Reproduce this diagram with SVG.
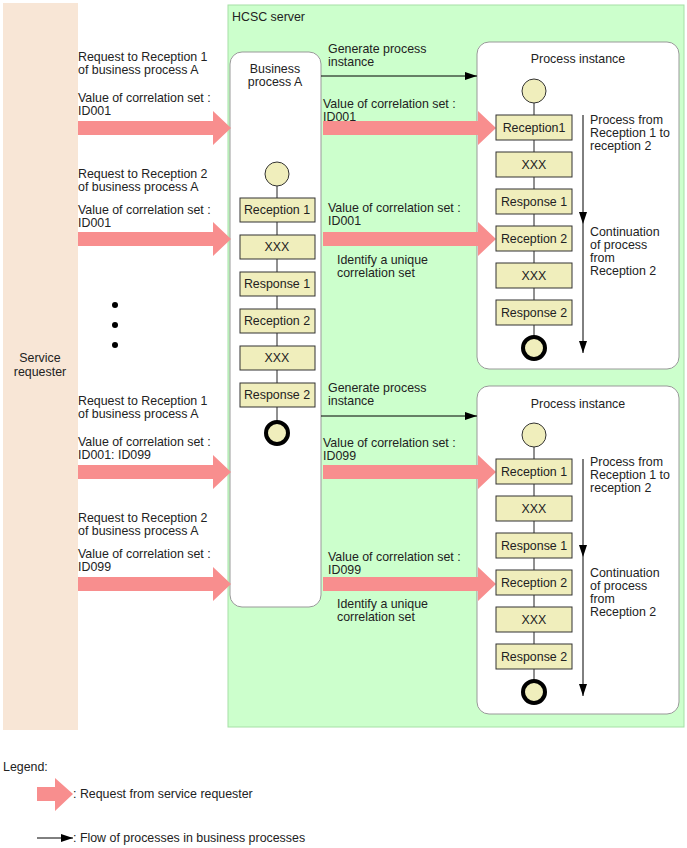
<svg xmlns="http://www.w3.org/2000/svg" width="687" height="848" viewBox="0 0 687 848">
<defs>
<style>
text{font-family:"Liberation Sans",Arial,sans-serif;font-size:12.4px;fill:#222}
.c{text-anchor:middle}
.box{fill:#F0EEBC;stroke:#333;stroke-width:1}
.st{fill:#F0EEBC;stroke:#333;stroke-width:1}
.en{fill:#F0EEBC;stroke:#000;stroke-width:4}
.ln{stroke:#222;stroke-width:1;fill:none}
.pk{fill:#F88E8E}
.fl{stroke:#000;stroke-width:1;fill:none;marker-end:url(#ah)}
</style>
<marker id="ah" viewBox="0 0 12 8" refX="12" refY="4" markerWidth="12" markerHeight="8" markerUnits="userSpaceOnUse" orient="auto">
<path d="M0,0 L12,4 L0,8 Z" fill="#000"/>
</marker>
</defs>
<rect width="687" height="848" fill="#fff"/>

<g id="service-requester">
<rect x="3" y="3" width="75" height="727" fill="#F8E6D6"/>
<text class="c" x="40" y="362">Service</text>
<text class="c" x="40" y="376">requester</text>
</g>

<g id="hcsc-server">
<rect x="228" y="5" width="456" height="722" fill="#CCFFCC" stroke="#A6E0A6" stroke-width="1"/>
<text x="232" y="21">HCSC server</text>
</g>

<g id="business-process-a">
<rect x="230" y="52" width="91" height="555" rx="12" fill="#fff" stroke="#999" stroke-width="1"/>
<text class="c" x="275" y="73">Business</text>
<text class="c" x="275" y="86">process A</text>
</g>

<g id="process-instance-1">
<rect x="477" y="42" width="202" height="327" rx="12" fill="#fff" stroke="#999" stroke-width="1"/>
<text class="c" x="578" y="63">Process instance</text>
</g>

<g id="process-instance-2">
<rect x="477" y="386" width="202" height="328" rx="12" fill="#fff" stroke="#999" stroke-width="1"/>
<text class="c" x="578" y="408">Process instance</text>
</g>

<g id="connectors">
<line class="ln" x1="277" y1="186" x2="277" y2="421"/>
<line class="ln" x1="534" y1="103" x2="534" y2="336"/>
<line class="ln" x1="534" y1="447" x2="534" y2="681"/>
<line class="fl" x1="321" y1="76" x2="477" y2="76"/>
<line class="fl" x1="321" y1="416" x2="477" y2="416"/>
<line class="fl" x1="583" y1="115" x2="583" y2="224"/>
<line class="fl" x1="583" y1="224" x2="583" y2="353"/>
<line class="fl" x1="583" y1="459" x2="583" y2="557"/>
<line class="fl" x1="583" y1="557" x2="583" y2="696"/>
<polygon class="pk" points="78,121 213,121 213,111 231,128 213,145 213,135 78,135"/>
<polygon class="pk" points="78,232 213,232 213,222 231,239 213,256 213,246 78,246"/>
<polygon class="pk" points="78,465 213,465 213,455 231,472 213,489 213,479 78,479"/>
<polygon class="pk" points="78,577 213,577 213,567 231,584 213,601 213,591 78,591"/>
<polygon class="pk" points="323,121 478,121 478,111 496,128 478,145 478,135 323,135"/>
<polygon class="pk" points="323,232 478,232 478,222 496,239 478,256 478,246 323,246"/>
<polygon class="pk" points="323,465 478,465 478,455 496,472 478,489 478,479 323,479"/>
<polygon class="pk" points="323,577 478,577 478,567 496,584 478,601 478,591 323,591"/>
</g>

<g id="bp-start"><circle class="st" cx="277" cy="174" r="12"/></g>
<g id="bp-reception1"><rect class="box" x="240" y="198" width="75" height="24"/><text class="c" x="277" y="214">Reception 1</text></g>
<g id="bp-xxx1"><rect class="box" x="240" y="235" width="75" height="24"/><text class="c" x="277" y="251">XXX</text></g>
<g id="bp-response1"><rect class="box" x="240" y="272" width="75" height="24"/><text class="c" x="277" y="288">Response 1</text></g>
<g id="bp-reception2"><rect class="box" x="240" y="309" width="75" height="24"/><text class="c" x="277" y="325">Reception 2</text></g>
<g id="bp-xxx2"><rect class="box" x="240" y="346" width="75" height="24"/><text class="c" x="277" y="362">XXX</text></g>
<g id="bp-response2"><rect class="box" x="240" y="383" width="75" height="24"/><text class="c" x="277" y="399">Response 2</text></g>
<g id="bp-end"><circle class="en" cx="277" cy="433" r="11"/></g>

<g id="pi1-start"><circle class="st" cx="534" cy="91" r="12"/></g>
<g id="pi1-reception1"><rect class="box" x="496" y="115" width="76" height="25"/><text class="c" x="534" y="132">Reception1</text></g>
<g id="pi1-xxx1"><rect class="box" x="496" y="152" width="76" height="25"/><text class="c" x="534" y="169">XXX</text></g>
<g id="pi1-response1"><rect class="box" x="496" y="189" width="76" height="25"/><text class="c" x="534" y="206">Response 1</text></g>
<g id="pi1-reception2"><rect class="box" x="496" y="226" width="76" height="25"/><text class="c" x="534" y="243">Reception 2</text></g>
<g id="pi1-xxx2"><rect class="box" x="496" y="263" width="76" height="25"/><text class="c" x="534" y="280">XXX</text></g>
<g id="pi1-response2"><rect class="box" x="496" y="300" width="76" height="25"/><text class="c" x="534" y="317">Response 2</text></g>
<g id="pi1-end"><circle class="en" cx="534" cy="348" r="11"/></g>

<g id="pi2-start"><circle class="st" cx="534" cy="435" r="12"/></g>
<g id="pi2-reception1"><rect class="box" x="496" y="459" width="76" height="25"/><text class="c" x="534" y="476">Reception 1</text></g>
<g id="pi2-xxx1"><rect class="box" x="496" y="496" width="76" height="25"/><text class="c" x="534" y="513">XXX</text></g>
<g id="pi2-response1"><rect class="box" x="496" y="533" width="76" height="25"/><text class="c" x="534" y="550">Response 1</text></g>
<g id="pi2-reception2"><rect class="box" x="496" y="570" width="76" height="25"/><text class="c" x="534" y="587">Reception 2</text></g>
<g id="pi2-xxx2"><rect class="box" x="496" y="607" width="76" height="25"/><text class="c" x="534" y="624">XXX</text></g>
<g id="pi2-response2"><rect class="box" x="496" y="644" width="76" height="25"/><text class="c" x="534" y="661">Response 2</text></g>
<g id="pi2-end"><circle class="en" cx="534" cy="692" r="11"/></g>

<g id="labels">
<text x="78" y="61">Request to Reception 1</text>
<text x="78" y="74">of business process A</text>
<text x="78" y="102">Value of correlation set :</text>
<text x="78" y="115">ID001</text>
<text x="78" y="178">Request to Reception 2</text>
<text x="78" y="191">of business process A</text>
<text x="78" y="214">Value of correlation set :</text>
<text x="78" y="227">ID001</text>
<text x="78" y="405">Request to Reception 1</text>
<text x="78" y="418">of business process A</text>
<text x="78" y="446">Value of correlation set :</text>
<text x="78" y="459">ID001: ID099</text>
<text x="78" y="522">Request to Reception 2</text>
<text x="78" y="535">of business process A</text>
<text x="78" y="558">Value of correlation set :</text>
<text x="78" y="571">ID099</text>

<text x="328" y="53">Generate process</text>
<text x="328" y="66">instance</text>
<text x="323" y="108">Value of correlation set :</text>
<text x="323" y="121">ID001</text>
<text x="328" y="212">Value of correlation set :</text>
<text x="328" y="225">ID001</text>
<text x="337" y="264">Identify a unique</text>
<text x="337" y="277">correlation set</text>

<text x="328" y="392">Generate process</text>
<text x="328" y="405">instance</text>
<text x="323" y="447">Value of correlation set :</text>
<text x="323" y="460">ID099</text>
<text x="328" y="561">Value of correlation set :</text>
<text x="328" y="574">ID099</text>
<text x="337" y="608">Identify a unique</text>
<text x="337" y="621">correlation set</text>

<text x="590" y="124">Process from</text>
<text x="590" y="137">Reception 1 to</text>
<text x="590" y="150">reception 2</text>
<text x="590" y="236">Continuation</text>
<text x="590" y="249">of process</text>
<text x="590" y="262">from</text>
<text x="590" y="275">Reception 2</text>

<text x="590" y="466">Process from</text>
<text x="590" y="479">Reception 1 to</text>
<text x="590" y="492">reception 2</text>
<text x="590" y="577">Continuation</text>
<text x="590" y="590">of process</text>
<text x="590" y="603">from</text>
<text x="590" y="616">Reception 2</text>
</g>

<g id="ellipsis">
<circle cx="115" cy="305" r="3" fill="#000"/>
<circle cx="115" cy="325" r="3" fill="#000"/>
<circle cx="115" cy="345" r="3" fill="#000"/>
</g>

<g id="legend">
<text x="3" y="771">Legend:</text>
<polygon class="pk" points="37,787 55,787 55,778 73,794 55,811 55,801 37,801"/>
<text x="73" y="798">: Request from service requester</text>
<line class="fl" x1="37" y1="838" x2="73" y2="838"/>
<text x="73" y="842">: Flow of processes in business processes</text>
</g>
</svg>
